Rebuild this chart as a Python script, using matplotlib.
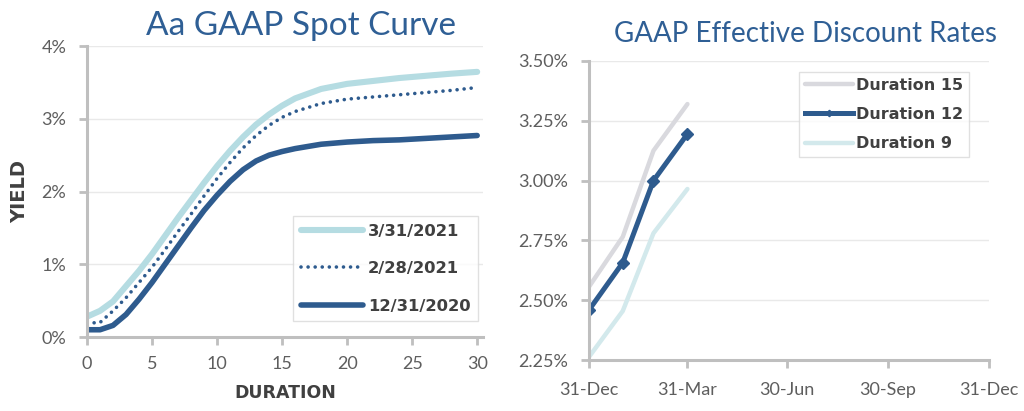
import matplotlib
matplotlib.use("Agg")
import matplotlib.pyplot as plt
import matplotlib.dates as mdates
from matplotlib.ticker import FuncFormatter
import numpy as np

# ---------------- data ----------------
duration = [0, 1, 2, 3, 4, 5, 6, 7, 8, 9, 10, 11, 12, 13, 14, 15, 16, 18, 20, 22, 24, 26, 28, 30]
spot_mar21 = [0.28, 0.36, 0.49, 0.70, 0.91, 1.14, 1.39, 1.64, 1.88, 2.12, 2.35, 2.56, 2.75, 2.92,
              3.06, 3.18, 3.28, 3.41, 3.48, 3.52, 3.56, 3.59, 3.62, 3.645]
spot_feb21 = [0.19, 0.20, 0.36, 0.54, 0.75, 0.96, 1.20, 1.45, 1.69, 1.94, 2.18, 2.40, 2.60, 2.77,
              2.91, 3.02, 3.10, 3.21, 3.27, 3.30, 3.33, 3.36, 3.39, 3.43]
spot_dec20 = [0.10, 0.10, 0.16, 0.31, 0.52, 0.75, 1.00, 1.25, 1.50, 1.74, 1.95, 2.14, 2.30, 2.42,
              2.50, 2.55, 2.59, 2.65, 2.68, 2.70, 2.71, 2.73, 2.75, 2.77]
spot_labels = ["3/31/2021", "2/28/2021", "12/31/2020"]

rate_dates = ["2020-12-31", "2021-01-31", "2021-02-28", "2021-03-31"]
dur15 = [2.555, 2.765, 3.125, 3.32]
dur12 = [2.458, 2.657, 3.00, 3.195]
dur9 = [2.262, 2.455, 2.78, 2.965]
rate_labels = ["Duration 15", "Duration 12", "Duration 9"]
date_ticks = ["2020-12-31", "2021-03-31", "2021-06-30", "2021-09-30", "2021-12-31"]
date_tick_labels = ["31-Dec", "31-Mar", "30-Jun", "30-Sep", "31-Dec"]

# ---------------- style ----------------
DARK = "#2E5B8E"
LIGHT = "#B5DCE2"
GREY = "#D9D9DE"
PALE = "#D3E9EC"
TITLE_C = "#2F5F95"
TXT = "#404040"
TICK_C = "#5E5E5E"
SPINE = "#BFBFBF"
GRID = "#E9E9E9"

plt.rcParams["font.family"] = ["Lato", "DejaVu Sans"]

fig = plt.figure(figsize=(10.24, 4.11), dpi=100)

def style_axes(ax):
    for s in ["top", "right"]:
        ax.spines[s].set_visible(False)
    for s in ["left", "bottom"]:
        ax.spines[s].set_color(SPINE)
        ax.spines[s].set_linewidth(2.2)
    ax.grid(axis="y", color=GRID, linewidth=1.0)
    ax.set_axisbelow(True)
    ax.tick_params(axis="both", colors=SPINE, width=2, length=6, labelcolor=TICK_C,
                   labelsize=13)

# ---------------- left chart ----------------
ax1 = fig.add_axes([0.085, 0.18, 0.3867, 0.708])
ax1.plot(duration, spot_mar21, color=LIGHT, lw=4.4, solid_capstyle="round", label=spot_labels[0])
ax1.plot(duration, spot_feb21, color=DARK, lw=2.6, linestyle=(0, (0.01, 1.95)),
         dash_capstyle="round", label=spot_labels[1])
ax1.plot(duration, spot_dec20, color=DARK, lw=4.0, solid_capstyle="round", label=spot_labels[2])
ax1.set_xlim(0, 30.45)
ax1.set_ylim(0, 4)
ax1.set_xticks([0, 5, 10, 15, 20, 25, 30])
ax1.set_yticks([0, 1, 2, 3, 4])
ax1.yaxis.set_major_formatter(FuncFormatter(lambda v, p: f"{v:.0f}%"))
style_axes(ax1)
ax1.tick_params(axis="x", pad=8)
ax1.tick_params(axis="y", pad=9)
ax1.set_xlabel("DURATION", fontsize=12.5, fontweight="bold", color=TXT, family="DejaVu Sans",
               labelpad=8)
ax1.set_ylabel("YIELD", fontsize=14, fontweight="bold", color=TXT, family="DejaVu Sans",
               labelpad=9)
ax1.set_title("Aa GAAP Spot Curve", fontsize=24, color=TITLE_C, pad=8, x=0.54)
leg1 = ax1.legend(loc="lower right", bbox_to_anchor=(0.987, 0.055), borderaxespad=0,
                  frameon=True, fancybox=False,
                  edgecolor="#D9D9D9", handlelength=3.8, handletextpad=0.3, labelspacing=1.37,
                  borderpad=0.45, prop={"family": "DejaVu Sans", "weight": "bold", "size": 11.8})
for t in leg1.get_texts():
    t.set_color(TXT)
leg1.get_frame().set_linewidth(1.0)

# ---------------- right chart ----------------
ax2 = fig.add_axes([0.575, 0.124, 0.3906, 0.7276])
xd = mdates.datestr2num(rate_dates)
ax2.plot(xd, dur15, color=GREY, lw=3.2, solid_capstyle="round", label=rate_labels[0])
ax2.plot(xd, dur12, color=DARK, lw=3.6, marker="D", markersize=6.5, label=rate_labels[1])
ax2.plot(xd, dur9, color=PALE, lw=3.2, solid_capstyle="round", label=rate_labels[2])
xt = mdates.datestr2num(date_ticks)
ax2.set_xlim(xt[0], xt[-1])
ax2.set_ylim(2.25, 3.5)
ax2.set_xticks(xt)
ax2.set_xticklabels(date_tick_labels)
ax2.set_yticks([2.25, 2.5, 2.75, 3.0, 3.25, 3.5])
ax2.yaxis.set_major_formatter(FuncFormatter(lambda v, p: f"{v:.2f}%"))
style_axes(ax2)
ax2.tick_params(axis="x", pad=10)
ax2.tick_params(axis="y", pad=9)
ax2.set_title("GAAP Effective Discount Rates", fontsize=20, color=TITLE_C, pad=14, x=0.5425)
leg2 = ax2.legend(loc="upper right", bbox_to_anchor=(0.95, 0.963), borderaxespad=0,
                  frameon=True, fancybox=False,
                  edgecolor="#D9D9D9", handlelength=3.0, handletextpad=0.2, labelspacing=0.9,
                  borderpad=0.35, markerscale=0.5,
                  prop={"family": "DejaVu Sans", "weight": "bold", "size": 11.5})
for t in leg2.get_texts():
    t.set_color(TXT)
leg2.get_frame().set_linewidth(1.0)

fig.savefig("out.png", dpi=100)
